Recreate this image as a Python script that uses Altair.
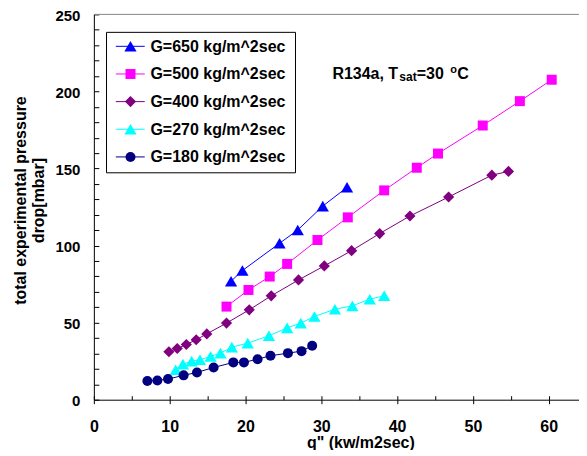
import altair as alt
import pandas as pd

labels = ["G=650 kg/m^2sec", "G=500 kg/m^2sec", "G=400 kg/m^2sec",
          "G=270 kg/m^2sec", "G=180 kg/m^2sec"]
colors = ["#0000FF", "#FF00FF", "#800080", "#00FFFF", "#000080"]
shapes = ["triangle-up", "square", "diamond", "triangle-up", "circle"]
sizes = [150, 100, 125, 150, 100]

q_650 = [18.1, 19.6, 24.5, 26.9, 30.2, 33.4]
dp_650 = [76.9, 83.8, 101.5, 110.1, 125.6, 137.8]

q_500 = [17.5, 20.4, 23.2, 25.5, 29.5, 33.5, 38.3, 42.6, 45.4, 51.3, 56.2, 60.4]
dp_500 = [60.4, 71.2, 79.9, 88.1, 103.6, 118.3, 135.8, 150.5, 159.7, 177.9, 193.7, 207.6]

q_400 = [9.9, 11.0, 12.2, 13.5, 14.9, 17.5, 20.5, 23.4, 27.0, 30.4, 34.0, 37.7,
         41.7, 46.8, 52.5, 54.7]
dp_400 = [31.1, 33.2, 35.8, 38.9, 42.7, 49.7, 58.3, 67.4, 77.7, 86.8, 96.7, 107.8,
          119.2, 131.5, 145.7, 148.1]

q_270 = [10.8, 11.75, 12.9, 14.0, 15.4, 16.7, 18.2, 20.3, 23.1, 25.5, 27.3, 29.1,
         31.8, 34.1, 36.4, 38.3]
dp_270 = [19.4, 23.1, 25.0, 25.9, 28.1, 30.2, 34.1, 36.7, 41.5, 46.6, 49.7, 54.0,
          58.7, 60.9, 65.2, 67.4]

q_180 = [7.06, 8.38, 9.78, 11.84, 13.6, 15.8, 18.4, 19.8, 21.6, 23.3, 25.6, 27.4, 28.8]
dp_180 = [12.1, 12.5, 13.4, 15.8, 17.7, 20.9, 24.2, 24.2, 26.3, 28.5, 30.2, 31.5, 35.0]

qs = [q_650, q_500, q_400, q_270, q_180]
dps = [dp_650, dp_500, dp_400, dp_270, dp_180]

x_ticks_major = list(range(0, 61, 10))
x_ticks_minor = list(range(0, 61, 5))
y_ticks_major = list(range(0, 251, 50))
y_ticks_minor = list(range(0, 251, 10))

x_title = 'q" (kw/m2sec)'
y_title = ["total experimental pressure", "drop[mbar]"]

W, H = 486, 386
FONT = "Liberation Sans"

xscale = alt.Scale(domain=[0, 64], nice=False, zero=False)
yscale = alt.Scale(domain=[0, 250], nice=False, zero=False)

ax_x_main = alt.Axis(orient="bottom", values=x_ticks_major, tickSize=4, tickColor="black",
                     domainColor="black", labelFont=FONT, labelFontSize=16,
                     labelFontWeight="bold", labelColor="black", labelPadding=15,
                     labelFlush=False, grid=False, title=x_title, titleFont=FONT,
                     titleFontSize=16, titleFontWeight="bold", titleColor="black",
                     titleX=267, titleY=48, titleAlign="center", titleBaseline="alphabetic")
ax_y_main = alt.Axis(orient="left", values=y_ticks_major, tickSize=0,
                     domainColor="black", labelFont=FONT, labelFontSize=15,
                     labelFontWeight="bold", labelColor="black", labelPadding=14,
                     labelOffset=1, labelFlush=False, grid=False, title=y_title,
                     titleFont=FONT, titleFontSize=16, titleFontWeight="bold",
                     titleColor="black", titleX=-73, titleY=186, titleAngle=270,
                     titleAlign="center", titleBaseline="middle", titleLineHeight=18)
ax_x_inner = alt.Axis(orient="bottom", values=x_ticks_minor, offset=-4, tickSize=4,
                      tickColor="black", labels=False, domain=False, grid=False, title="")
ax_y_inner = alt.Axis(orient="left", values=y_ticks_minor, offset=-5, tickSize=5,
                      tickColor="black", labels=False, domain=False, grid=False, title="")

layers = []

# top frame line
frame_df = pd.DataFrame({"k": [0]})
layers.append(alt.Chart(frame_df).mark_rule(color="#888888", strokeWidth=1).encode(
    x=alt.value(0), x2=alt.value(W), y=alt.value(0)))

for i in range(len(labels)):
    df = pd.DataFrame({"q": qs[i], "dp": dps[i]})
    last = i == len(labels) - 1
    line = alt.Chart(df).mark_line(color=colors[i], strokeWidth=1).encode(
        x=alt.X("q:Q", scale=xscale, axis=ax_x_main if last else None),
        y=alt.Y("dp:Q", scale=yscale, axis=ax_y_main if last else None),
    )
    pts = alt.Chart(df).mark_point(shape=shapes[i], filled=True, size=sizes[i],
                                   color=colors[i], opacity=1).encode(
        x=alt.X("q:Q", scale=xscale, axis=ax_x_inner if last else None),
        y=alt.Y("dp:Q", scale=yscale, axis=ax_y_inner if last else None),
    )
    layers += [line, pts]

# legend box
layers.append(alt.Chart(frame_df).mark_rect(fill="white", stroke="black", strokeWidth=1).encode(
    x=alt.value(12.7), x2=alt.value(202), y=alt.value(18), y2=alt.value(158.7)))
for i in range(len(labels)):
    yy = 32 + i * 27.7
    layers.append(alt.Chart(frame_df).mark_rule(color=colors[i], strokeWidth=1).encode(
        x=alt.value(22), x2=alt.value(51), y=alt.value(yy)))
    layers.append(alt.Chart(frame_df).mark_point(shape=shapes[i], filled=True, size=sizes[i],
                                                 color=colors[i], opacity=1).encode(
        x=alt.value(36.7), y=alt.value(yy)))
    layers.append(alt.Chart(frame_df).mark_text(align="left", baseline="middle", font=FONT,
                                                fontSize=16, fontWeight="bold",
                                                color="black").encode(
        x=alt.value(56.7), y=alt.value(yy + 0.5), text=alt.value(labels[i])))

# annotation R134a, Tsat=30 oC
ann = [("R134a, T", 239, 64.5, 16), ("sat", 306, 67, 12), ("=30", 323.5, 64.5, 16),
       ("o", 357, 59, 11), ("C", 364, 64.5, 16)]
for txt, ax, ay, fs in ann:
    layers.append(alt.Chart(frame_df).mark_text(align="left", baseline="alphabetic", font=FONT,
                                                fontSize=fs, fontWeight="bold",
                                                color="black").encode(
        x=alt.value(ax), y=alt.value(ay), text=alt.value(txt)))

chart = alt.layer(*layers).resolve_axis(x="independent", y="independent").properties(
    width=W, height=H,
    autosize=alt.AutoSizeParams(type="none"),
    padding={"left": 86, "top": 6, "right": 0, "bottom": 50},
    background="white",
).configure_view(stroke=None)

chart.save("out.html", embed_options={"renderer": "svg", "actions": False})
